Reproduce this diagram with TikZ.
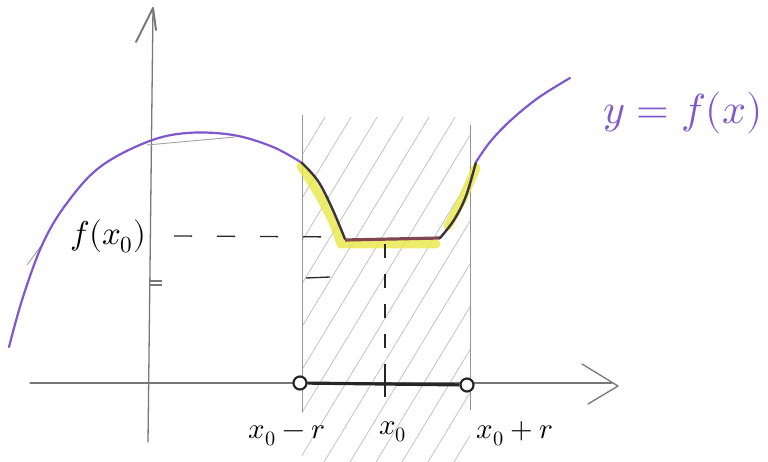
\documentclass[tikz,border=0pt]{standalone}
\usepackage{unicode-math}
\setmathfont{Latin Modern Math}
\definecolor{fpurple}{RGB}{128,88,205}
\definecolor{hlyellow}{RGB}{232,232,70}
\definecolor{pencil}{RGB}{120,120,120}
\definecolor{hatch}{RGB}{195,195,195}
\definecolor{darkcurve}{RGB}{60,50,60}
\definecolor{flatbrown}{RGB}{130,70,80}
\tikzset{
  axisline/.style={draw=pencil, line width=1.3pt, line cap=round},
  guide/.style={draw=pencil!80, line width=1pt},
  hatchline/.style={draw=hatch, line width=0.8pt},
  dashline/.style={draw=black!85, line width=1.3pt, dash pattern=on 18pt off 25pt},
  vdash/.style={draw=black!85, line width=1.3pt, dash pattern=on 14pt off 16pt},
  fcurve/.style={draw=fpurple, line width=2.2pt, line cap=round},
  highlight/.style={draw=hlyellow, line width=9pt, line cap=round, line join=round, opacity=0.8},
  lbl/.style={inner sep=0pt, font=\fontsize{29}{34}\selectfont},
  endpt/.style={circle, draw=black!85, line width=2.2pt, minimum size=13pt, inner sep=0pt, fill=white}
}
\begin{document}
\begin{tikzpicture}[x=1pt, y=-1pt]
\useasboundingbox (0,0) rectangle (768,462);
% hatching of the neighbourhood strip
\begin{scope}
  \clip (302,118) rectangle (470,462);
  \foreach \i in {-40,-14,...,480} {
    \draw[hatchline] (\i,462) -- (\i+280,0);
  }
\end{scope}
% vertical boundary lines
\coordinate (lt) at (302,115);
\coordinate (lb) at (302,412);
\coordinate (rt) at (470,125);
\coordinate (rb) at (470,410);
\draw[guide] (lt) -- (lb);
\draw[guide] (rt) -- (rb);
% axes
\coordinate (ybot) at (148,442);
\coordinate (ytop) at (153,8);
\coordinate (yal) at (136,42);
\coordinate (yar) at (156,30);
\draw[axisline] (ybot) -- (ytop);
\draw[axisline, line width=2pt, line join=round] (yal) -- (ytop) -- (yar);
\coordinate (xl) at (30,383);
\coordinate (xr) at (612,383);
\coordinate (xtip) at (618,386);
\coordinate (xau) at (582,364);
\coordinate (xad) at (588,404);
\draw[axisline] (xl) -- (xr);
\draw[axisline, line join=round] (xau) -- (xtip) -- (xad);
% faint pencil underdrawing
\coordinate (g1) at (147,145);
\coordinate (g2) at (235,137);
\draw[draw=pencil!70, line width=0.9pt] (g1) -- (g2);
\coordinate (g3) at (27,265);
\coordinate (g4) at (44,242);
\draw[draw=pencil!70, line width=0.9pt] (g3) -- (g4);
% yellow highlight
\draw[highlight] plot[smooth, tension=0.6] coordinates {(301,166) (318,193) (333,222) (341,244)} -- (436,244);
\draw[highlight] (448,226) -- (462,200) -- (476,168);
% the function
\draw[fcurve] plot[smooth, tension=0.6] coordinates {(9,347) (23,297) (43,243) (67,203) (100,167) (147,142) (187,133) (233,135) (273,147) (302,163)};
\draw[draw=darkcurve, line width=2.4pt, line cap=round] plot[smooth, tension=0.6] coordinates {(302,163) (318,181) (332,208) (345,239)};
\draw[draw=flatbrown, line width=3.2pt] (345,240) -- (440,238);
\draw[draw=darkcurve, line width=2.4pt, line cap=round] plot[smooth, tension=0.6] coordinates {(440,238) (454,220) (466,196) (476,162)};
\draw[fcurve] plot[smooth, tension=0.6] coordinates {(476,162) (490,142) (510,121) (538,98) (570,78)};
% dashed guides
\coordinate (dl) at (174,236);
\coordinate (dr) at (343,237);
\draw[dashline] (dl) -- (dr);
\coordinate (vt) at (385,244);
\coordinate (vb) at (385,372);
\draw[vdash] (vt) -- (vb);
\coordinate (e1) at (306,278);
\coordinate (e2) at (330,277);
\draw[draw=black!85, line width=1.3pt] (e1) -- (e2);
\coordinate (e3) at (150,281);
\coordinate (e4) at (162,281);
\coordinate (e5) at (150,285);
\coordinate (e6) at (162,285);
\draw[draw=pencil, line width=1.1pt] (e3) -- (e4) (e5) -- (e6);
% interval on the x-axis
\node[endpt] (pl) at (300,383) {};
\node[endpt] (pr) at (467,385) {};
\draw[draw=black!85, line width=3.2pt] (pl) -- (pr);
\coordinate (tt) at (385,366);
\coordinate (tb) at (385,397);
\draw[draw=black!85, line width=1.8pt] (tt) -- (tb);
% labels
\node[lbl, font=\fontsize{33}{38}\selectfont] (fx0) at (108,236) {$f(x_0)$};
\node[lbl] (xm) at (287,436) {$x_0-r$};
\node[lbl] (x0) at (393,432) {$x_0$};
\node[lbl] (xp) at (515,434) {$x_0+r$};
\node[inner sep=0pt, text=fpurple, font=\fontsize{42}{48}\selectfont] (yf) at (683,113) {$y = f(x)$};
\end{tikzpicture}
\end{document}
